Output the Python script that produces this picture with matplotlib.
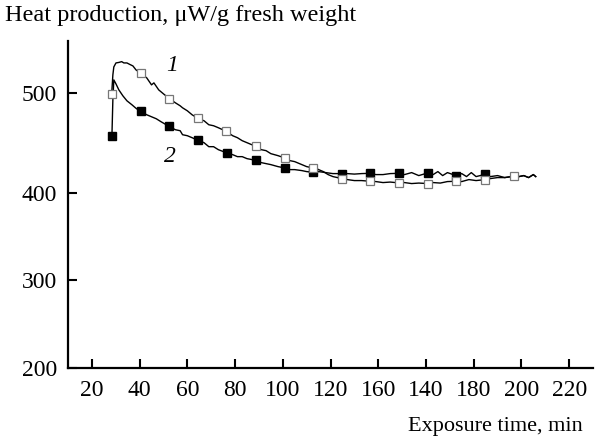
import numpy as np
import matplotlib
matplotlib.use('Agg')
import matplotlib.pyplot as plt

plt.rcParams['font.family'] = ['Liberation Serif', 'DejaVu Serif']

# curve 1 (open squares)
t1 = [28.3, 28.8, 29.2, 30.1, 31.3, 32.5, 33.4, 34.7, 35.9, 37.2, 38.5, 40.4,
      43, 45, 46, 48, 50, 52.4, 55, 57, 58, 60, 62, 64.5, 67, 69, 71, 73, 76.4,
      79, 81, 83, 85, 88.7, 91, 93, 95, 98, 100.8, 103, 105, 108, 110, 112.6,
      115, 117, 119, 121, 124.8, 127, 130, 133, 136.7, 139, 142, 145, 148.6,
      151, 154, 157, 160.8, 163, 166, 169, 172.6, 175, 178, 181, 184.9,
      187, 190, 193, 197, 199, 201, 203, 205, 206]
q1 = [498.7, 518, 526, 530, 530.5, 531.3, 530, 530, 528.5, 527, 523, 519.7,
      515, 508, 510, 503, 499, 494.3, 490, 487, 485, 482, 478, 474.3, 472, 468,
      467, 465, 461.3, 457, 455, 452, 450, 446.3, 443, 442, 439, 437, 434.7,
      432, 431, 428, 426, 424.7, 423, 421, 418, 416, 414, 413, 412, 412, 411.3,
      411, 410, 410.5, 409.7, 410, 409, 409.5, 409, 410, 409.5, 411, 411.3,
      411, 413, 412, 413, 414, 415, 415, 416.3, 416, 417, 415, 418, 416]

# curve 2 (filled squares)
t2 = [28.4, 28.8, 29.2, 30.1, 31.3, 33.0, 34.7, 36.8, 38.5, 40.4, 43, 45, 47,
      49, 52.4, 55, 57, 58, 60, 62, 64.5, 67, 69, 71, 73, 76.6, 79, 81, 83, 85,
      88.7, 91, 93, 95, 98, 100.8, 103, 105, 108, 110, 112.6, 115, 118, 121,
      124.8, 127, 130, 133, 136.7, 139, 142, 145, 148.6, 151, 154, 157, 160.8,
      163, 165, 167, 169, 172.6, 175, 177, 179, 181, 184.9, 187, 190, 193, 197,
      199, 201, 203, 205, 206]
q2 = [456.3, 493, 513, 509, 503, 497, 492, 488, 484.5, 481.3, 478, 476, 474,
      471, 466.3, 463, 462, 458, 457, 455, 452.3, 450, 446, 446, 443, 439.7,
      438, 436, 436, 434, 432.3, 430, 429, 428, 426, 424.7, 423, 423, 422, 421,
      420.3, 421, 420, 419, 419, 419, 418.5, 419, 419.3, 418, 418, 419, 419.3,
      418, 420, 417, 419.7, 418, 421, 417, 420, 417, 419, 416, 420, 416, 418.3,
      416, 417, 415, 416.5, 416, 417, 415, 418, 416]

# marker points
m1_t = [28.3, 40.4, 52.4, 64.5, 76.4, 88.7, 100.8, 112.6, 124.8, 136.7, 148.6,
        160.8, 172.6, 184.9, 197.0]
m1_q = [498.7, 519.7, 494.3, 474.3, 461.3, 446.3, 434.7, 424.7, 414, 411.3,
        409.7, 409, 411.3, 413, 416.3]
m2_t = [28.3, 40.4, 52.4, 64.5, 76.6, 88.7, 100.8, 112.6, 124.8, 136.7, 148.6,
        160.8, 172.6, 184.9]
m2_q = [456.3, 481.3, 466.3, 452.3, 439.7, 432.3, 424.7, 420.3, 419, 419.3,
        419.3, 419.7, 417, 418.3]

xticks = [20, 40, 60, 80, 100, 120, 140, 160, 180, 200, 220]
xlabels = ['20', '40', '60', '80', '100', '120', '160', '140', '180', '200', '220']
yticks = [200, 300, 400, 500]

K = 100 / 88.0  # the upper part of the y axis is drawn stretched


def fwd(v):
    v = np.asarray(v, dtype=float)
    return np.where(v <= 400, v, 400 + (v - 400) * K)


def inv(u):
    u = np.asarray(u, dtype=float)
    return np.where(u <= 400, u, 400 + (u - 400) / K)


fig = plt.figure(figsize=(6, 4.43), dpi=100)
ax = fig.add_axes([68 / 600, 1 - 368 / 443, 525 / 600, 327 / 443])
ax.set_yscale('function', functions=(fwd, inv))

ax.plot(t1, q1, color='black', lw=1.0)
ax.plot(t2, q2, color='black', lw=1.0)
ax.plot(m2_t, m2_q, ls='none', marker='s', ms=5.8, mfc='black', mec='black')
ax.plot(m1_t, m1_q, ls='none', marker='s', ms=5.8, mfc='white', mec='#777777', mew=0.9)

ax.set_xlim(10, 230)
ax.set_ylim(200, 552)
ax.set_xticks(xticks)
ax.set_xticklabels(xlabels)
ax.set_yticks(yticks)
ax.minorticks_off()
ax.tick_params(direction='in', length=6.5, width=1.5, labelsize=17, pad=8)
ax.tick_params(axis='x', pad=9)
for s in ['top', 'right']:
    ax.spines[s].set_visible(False)
for s in ['left', 'bottom']:
    ax.spines[s].set_linewidth(1.6)

ax.text(53.5, 527, '1', fontsize=17, style='italic', ha='center', va='center')
ax.text(52.7, 436, '2', fontsize=17, style='italic', ha='center', va='center')

fig.text(5 / 600, 1 - 16 / 443, 'Heat production, \u03bcW/g fresh weight',
         fontsize=17.5, ha='left', va='center')
fig.text(583 / 600, 1 - 427 / 443, 'Exposure time, min', fontsize=16,
         ha='right', va='center')

fig.savefig('out.png', dpi=100)
